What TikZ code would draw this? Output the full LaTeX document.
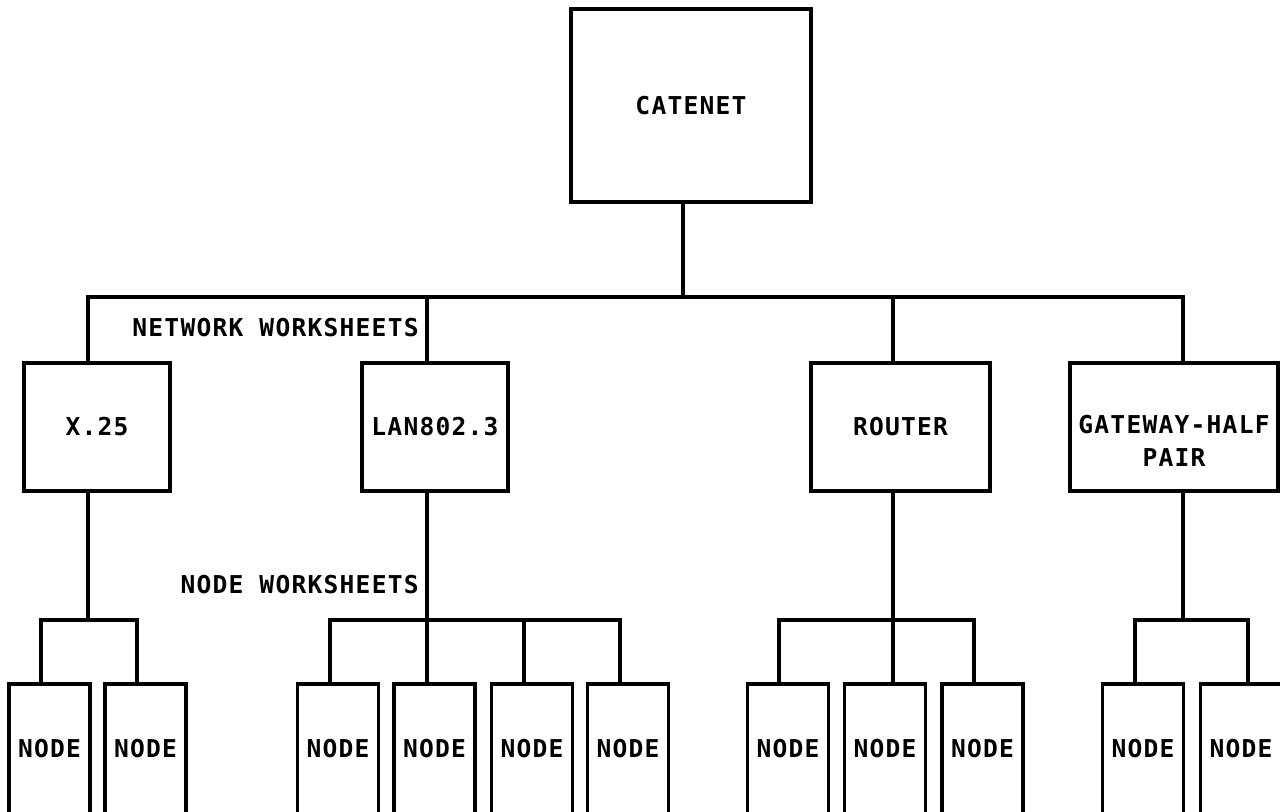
\documentclass[tikz,border=0pt]{standalone}
\usepackage{fontspec}
\newfontfamily\plotfont[LetterSpace=5.0]{DejaVu Sans Mono Bold}
\usetikzlibrary{calc}
\tikzset{
    plotbox/.style={
        draw,
        rectangle,
        line width=1.8pt,
        inner sep=0pt,
        font=\plotfont\fontsize{14}{18.8}\selectfont
    },
    catbox/.style={
        plotbox,
        minimum width=4.8cm,
        minimum height=3.86cm
    },
    netbox/.style={
        plotbox,
        minimum height=2.56cm
    },
    hostbox/.style={
        plotbox,
        minimum width=1.62cm,
        minimum height=2.6cm
    },
    lab/.style={
        font=\plotfont\fontsize{14}{18.8}\selectfont,
        inner sep=0pt,
        anchor=east
    },
    wire/.style={
        line width=1.8pt,
        line cap=rect
    }
}

\begin{document}
\begin{tikzpicture}[x=0.02cm,y=-0.02cm]
\clip (0,0) rectangle (1280,811);
% top level
\node[catbox] (cat) at (691,105.5) {CATENET};
\node[netbox, minimum width=2.92cm] (x25) at (97,427) {X.25};
\node[netbox, minimum width=2.92cm] (lan) at (435,427) {LAN802.3};
\node[netbox, minimum width=3.58cm] (rtr) at (900.5,427) {ROUTER};
\node[netbox, minimum width=4.16cm] (gw) at (1174,427) {\raisebox{0pt}[1.6cm][0pt]{\begin{tabular}[b]{@{}c@{}}GATEWAY-HALF\\PAIR\end{tabular}}};
\node[lab] (netws) at (419,328) {NETWORK WORKSHEETS};
\node[lab] (nodews) at (419,585) {NODE WORKSHEETS};
% node worksheets
\node[hostbox] (h11) at (49.5,749) {NODE};
\node[hostbox] (h12) at (145.5,749) {NODE};
\node[hostbox] (h21) at (338,749) {NODE};
\node[hostbox] (h22) at (434.5,749) {NODE};
\node[hostbox] (h23) at (532,749) {NODE};
\node[hostbox] (h24) at (628,749) {NODE};
\node[hostbox] (h31) at (788,749) {NODE};
\node[hostbox] (h32) at (885,749) {NODE};
\node[hostbox] (h33) at (982.5,749) {NODE};
\node[hostbox] (h41) at (1143,749) {NODE};
\node[hostbox] (h42) at (1241,749) {NODE};
% bus under catenet
\coordinate (top) at (683,297);
\coordinate (j1) at (88,297);
\coordinate (j2) at (427,297);
\coordinate (j3) at (893,297);
\coordinate (j4) at (1183,297);
\draw[wire] (cat.south -| top) -- (top);
\draw[wire] (j1) -- (j4);
\draw[wire] (j1) -- (x25.north -| j1);
\draw[wire] (j2) -- (lan.north -| j2);
\draw[wire] (j3) -- (rtr.north -| j3);
\draw[wire] (j4) -- (gw.north -| j4);
% x.25 nodes
\coordinate (s1a) at (41,620);
\coordinate (s1b) at (137,620);
\draw[wire] (x25.south -| j1) -- (j1 |- s1a);
\draw[wire] (s1a) -- (s1b);
\draw[wire] (s1a) -- (h11.north -| s1a);
\draw[wire] (s1b) -- (h12.north -| s1b);
% lan nodes
\coordinate (s2a) at (330,620);
\coordinate (s2c) at (524,620);
\coordinate (s2d) at (620,620);
\draw[wire] (lan.south -| j2) -- (h22.north -| j2);
\draw[wire] (s2a) -- (s2d);
\draw[wire] (s2a) -- (h21.north -| s2a);
\draw[wire] (s2c) -- (h23.north -| s2c);
\draw[wire] (s2d) -- (h24.north -| s2d);
% router nodes
\coordinate (s3a) at (779,620);
\coordinate (s3c) at (974,620);
\draw[wire] (rtr.south -| j3) -- (h32.north -| j3);
\draw[wire] (s3a) -- (s3c);
\draw[wire] (s3a) -- (h31.north -| s3a);
\draw[wire] (s3c) -- (h33.north -| s3c);
% gateway nodes
\coordinate (s4a) at (1135,620);
\coordinate (s4b) at (1248,620);
\draw[wire] (gw.south -| j4) -- (j4 |- s4a);
\draw[wire] (s4a) -- (s4b);
\draw[wire] (s4a) -- (h41.north -| s4a);
\draw[wire] (s4b) -- (h42.north -| s4b);
\end{tikzpicture}
\end{document}
